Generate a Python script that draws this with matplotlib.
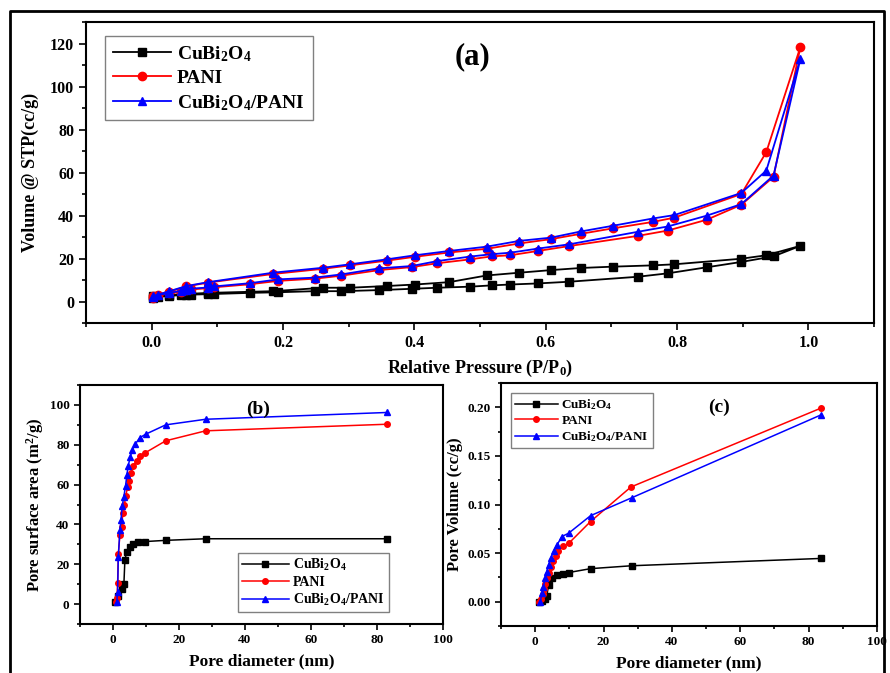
import numpy as np
import matplotlib
matplotlib.use('Agg')
from matplotlib import pyplot
from matplotlib.lines import Line2D
from matplotlib.ticker import MultipleLocator, FormatStrFormatter

pyplot.rcParams['font.family'] = ['Liberation Serif', 'DejaVu Serif']
pyplot.rcParams['font.weight'] = 'bold'
pyplot.rcParams['mathtext.default'] = 'regular'

labels = ['CuBi$_2$O$_4$', 'PANI', 'CuBi$_2$O$_4$/PANI']
colors = ['black', 'red', 'blue']
markers = ['s', 'o', '^']

# (a) N2 isotherms: adsorption branch then desorption branch
p_ads = [0.002, 0.01, 0.027, 0.045, 0.053, 0.06, 0.086, 0.095, 0.149, 0.193, 0.248, 0.289, 0.346,
         0.396, 0.435, 0.485, 0.518, 0.546, 0.588, 0.636, 0.74, 0.786, 0.845, 0.898, 0.947, 0.988]
p_des = [0.936, 0.898, 0.796, 0.763, 0.702, 0.654, 0.608, 0.56, 0.51, 0.453, 0.401, 0.358, 0.302,
         0.261, 0.185, 0.086, 0.053, 0.027, 0.002]

cubi_ads = [1.8, 2.2, 2.6, 3.0, 3.1, 3.2, 3.4, 3.5, 4.0, 4.3, 4.8, 4.8, 5.3, 5.9, 6.4, 6.9, 7.5,
            7.9, 8.4, 9.2, 11.5, 13.1, 15.9, 18.4, 21.0, 25.9]
cubi_des = [21.5, 19.9, 17.3, 16.8, 16.2, 15.6, 14.6, 13.4, 12.1, 9.0, 7.9, 7.2, 6.4, 6.4, 4.8,
            4.0, 3.5, 3.0, 2.5]
pani_ads = [1.8, 2.8, 3.8, 4.6, 5.2, 5.6, 6.2, 6.6, 8.0, 9.6, 10.6, 12.0, 14.6, 16.0, 17.8, 19.6,
            21.0, 21.5, 23.5, 25.8, 30.5, 33.0, 38.0, 45.0, 58.0, 118.5]
pani_des = [69.5, 50.0, 39.0, 37.0, 34.0, 31.5, 29.0, 27.0, 24.5, 22.8, 20.8, 19.0, 16.8, 15.2,
            12.8, 8.8, 7.0, 4.6, 2.4]
comp_ads = [2.0, 3.0, 4.0, 5.0, 5.5, 6.0, 6.5, 7.0, 8.5, 10.3, 11.1, 12.6, 15.4, 16.5, 18.8, 20.9,
            22.0, 22.7, 24.6, 26.6, 32.4, 34.9, 39.9, 45.3, 58.6, 113.0]
comp_des = [60.9, 50.5, 40.2, 38.6, 35.2, 32.6, 29.7, 28.2, 25.5, 23.5, 21.5, 19.6, 17.3, 15.7,
            13.4, 9.0, 7.2, 4.8, 2.5]

# (b) cumulative pore surface area
b_cubi_d = [0.6, 1.6, 2.8, 3.3, 3.6, 4.1, 5.2, 6.2, 7.7, 9.8, 16.0, 28.1, 83.0]
b_cubi_s = [1.2, 4.2, 7.5, 10.0, 22.0, 26.0, 28.6, 30.0, 31.0, 31.4, 32.0, 32.8, 32.8]
b_pani_d = [1.0, 1.2, 1.4, 1.6, 2.1, 2.6, 3.0, 3.4, 3.9, 4.4, 4.9, 5.5, 6.2, 7.2, 8.2, 9.8, 16.0,
            28.1, 83.0]
b_pani_s = [1.0, 3.0, 10.5, 25.0, 34.8, 38.5, 45.8, 49.5, 54.5, 58.7, 62.0, 66.0, 69.4, 72.0,
            74.5, 76.0, 82.0, 87.0, 90.3]
b_comp_d = [1.1, 1.4, 1.6, 2.1, 2.4, 2.8, 3.3, 3.8, 4.2, 4.6, 5.2, 5.8, 6.7, 8.2, 9.9, 16.0, 28.1,
            83.0]
b_comp_s = [0.8, 5.9, 23.4, 37.3, 42.0, 49.3, 54.0, 59.4, 64.7, 69.4, 73.6, 77.3, 80.3, 83.6,
            85.3, 90.0, 92.8, 96.2]

# (c) cumulative pore volume
c_cubi_d = [1.0, 2.0, 3.0, 3.4, 3.9, 4.9, 6.4, 8.0, 9.8, 16.2, 28.3, 83.5]
c_cubi_v = [0.0, 0.001, 0.003, 0.006, 0.017, 0.024, 0.027, 0.029, 0.030, 0.034, 0.037, 0.0445]
c_pani_d = [1.0, 1.6, 2.2, 2.6, 3.0, 3.4, 3.9, 4.5, 5.2, 6.0, 6.8, 8.1, 9.8, 16.2, 28.0, 83.5]
c_pani_v = [0.0, 0.003, 0.008, 0.013, 0.018, 0.024, 0.030, 0.036, 0.042, 0.047, 0.052, 0.057,
            0.060, 0.0825, 0.118, 0.199]
c_comp_d = [1.5, 2.0, 2.4, 2.9, 3.4, 3.9, 4.6, 5.4, 6.4, 7.8, 9.8, 16.2, 28.3, 83.5]
c_comp_v = [0.0, 0.009, 0.0155, 0.024, 0.031, 0.038, 0.045, 0.052, 0.0585, 0.067, 0.0705, 0.0885,
            0.107, 0.192]


W, H = 890, 673
fig = pyplot.figure(figsize=(W / 100, H / 100), dpi=100)


def box(l, t, r, b):
    return [l / W, 1 - b / H, (r - l) / W, (b - t) / H]


# outer frame
fig.add_artist(Line2D([10 / W, 10 / W, 884 / W, 884 / W], [-0.05, 1 - 11 / H, 1 - 11 / H, -0.05],
                      color='black', lw=2, transform=fig.transFigure))


def style(ax, size, tick_len=4):
    ax.tick_params(which='both', direction='out', top=False, right=False, labelsize=size, width=1.2)
    ax.tick_params(which='major', length=tick_len)
    ax.tick_params(which='minor', length=tick_len * 0.6)
    for s in ax.spines.values():
        s.set_linewidth(1.5)
    for t in ax.get_xticklabels() + ax.get_yticklabels():
        t.set_fontweight('bold')


# ---- (a)
ax = fig.add_axes(box(86, 22, 874, 323))
a_series = [(cubi_ads, cubi_des), (pani_ads, pani_des), (comp_ads, comp_des)]
for (ads, des), c, m, lab in zip(a_series, colors, markers, labels):
    ax.plot(p_ads + p_des, ads + des, color=c, marker=m, ms=6, lw=1.3, label=lab)
ax.set_xlim(-0.1, 1.1)
ax.set_ylim(-10, 130)
ax.xaxis.set_major_locator(MultipleLocator(0.2))
ax.xaxis.set_minor_locator(MultipleLocator(0.1))
ax.yaxis.set_major_locator(MultipleLocator(20))
ax.yaxis.set_minor_locator(MultipleLocator(10))
ax.xaxis.set_major_formatter(FormatStrFormatter('%.1f'))
style(ax, 11.5, 5)
ax.set_xlabel('Relative Pressure (P/P$_0$)', fontsize=13, fontweight='bold', labelpad=5)
ax.set_ylabel('Volume @ STP(cc/g)', fontsize=13, fontweight='bold', labelpad=8)
ax.text(0.49, 0.86, '(a)', transform=ax.transAxes, fontsize=22, fontweight='bold', ha='center')
ax.legend(loc='upper left', bbox_to_anchor=(0.012, 0.985), handlelength=3,
          fancybox=False, edgecolor='gray', framealpha=1, borderpad=0.4, labelspacing=0.3,
          handletextpad=0.3, prop={'weight': 'bold', 'size': 14})

# ---- (b)
ax = fig.add_axes(box(80, 385, 443, 624))
for d, s, c, m, lab in zip([b_cubi_d, b_pani_d, b_comp_d], [b_cubi_s, b_pani_s, b_comp_s],
                           colors, markers, labels):
    ax.plot(d, s, color=c, marker=m, ms=4, lw=1.1, label=lab)
ax.set_xlim(-10, 100)
ax.set_ylim(-10, 110)
ax.xaxis.set_major_locator(MultipleLocator(20))
ax.xaxis.set_minor_locator(MultipleLocator(10))
ax.yaxis.set_major_locator(MultipleLocator(20))
ax.yaxis.set_minor_locator(MultipleLocator(10))
style(ax, 9.5, 4)
ax.set_xlabel('Pore diameter (nm)', fontsize=12.5, fontweight='bold', labelpad=5)
ax.set_ylabel('Pore surface area (m$^2$/g)', fontsize=12, fontweight='bold', labelpad=3)
ax.text(0.49, 0.88, '(b)', transform=ax.transAxes, fontsize=14, fontweight='bold', ha='center')
ax.legend(loc='lower right', bbox_to_anchor=(0.87, 0.02), handlelength=3.4, fancybox=False,
          edgecolor='gray', framealpha=1, borderpad=0.3, labelspacing=0.2, handletextpad=0.3,
          prop={'weight': 'bold', 'size': 10})

# ---- (c)
ax = fig.add_axes(box(501, 383, 877, 626))
for d, v, c, m, lab in zip([c_cubi_d, c_pani_d, c_comp_d], [c_cubi_v, c_pani_v, c_comp_v],
                           colors, markers, labels):
    ax.plot(d, v, color=c, marker=m, ms=4, lw=1.1, label=lab)
ax.set_xlim(-10, 100)
ax.set_ylim(-0.025, 0.225)
ax.xaxis.set_major_locator(MultipleLocator(20))
ax.xaxis.set_minor_locator(MultipleLocator(10))
ax.yaxis.set_major_locator(MultipleLocator(0.05))
ax.yaxis.set_minor_locator(MultipleLocator(0.025))
ax.yaxis.set_major_formatter(FormatStrFormatter('%.2f'))
style(ax, 9.5, 4)
ax.set_xlabel('Pore diameter (nm)', fontsize=12.5, fontweight='bold', labelpad=5)
ax.set_ylabel('Pore Volume (cc/g)', fontsize=12, fontweight='bold', labelpad=3)
ax.text(0.58, 0.88, '(c)', transform=ax.transAxes, fontsize=14, fontweight='bold', ha='center')
ax.legend(loc='upper left', bbox_to_anchor=(0.01, 0.985), handlelength=3.2, fancybox=False,
          edgecolor='gray', framealpha=1, borderpad=0.3, labelspacing=0.2, handletextpad=0.3,
          prop={'weight': 'bold', 'size': 9.5})

pyplot.savefig('out.png', dpi=100)
